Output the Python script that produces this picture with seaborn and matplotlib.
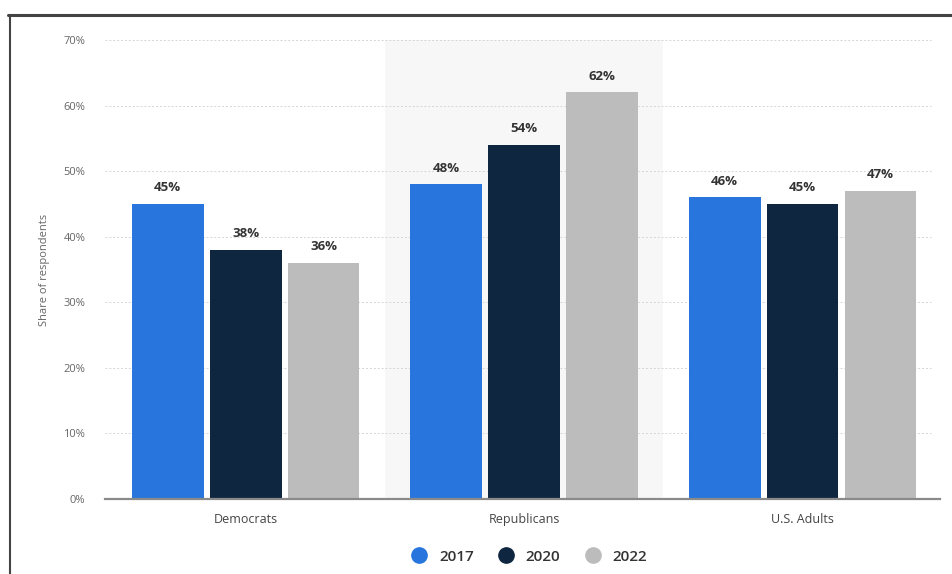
import matplotlib.pyplot as plt
import seaborn as sns
import pandas as pd
from matplotlib.lines import Line2D

sns.set_theme(style="white")
plt.rcParams['font.family'] = ['Open Sans', 'DejaVu Sans']

groups = ["Democrats", "Republicans", "U.S. Adults"]
years = ["2017", "2020", "2022"]
share_2017 = [45, 48, 46]
share_2020 = [38, 54, 45]
share_2022 = [36, 62, 47]
colors = ["#2876dd", "#0f2640", "#bcbcbc"]
y_ticks = [0, 10, 20, 30, 40, 50, 60, 70]

df = pd.DataFrame({
    "group": groups * 3,
    "year": [y for y in years for _ in groups],
    "share": share_2017 + share_2020 + share_2022,
})

fig = plt.figure(figsize=(9.52, 5.74), dpi=100)
ax = fig.add_axes([0.110, 0.1307, 0.877, 0.7996])

# highlighted middle category
ax.axvspan(0.5, 1.5, color="#f7f7f7", zorder=0, lw=0)

sns.barplot(data=df, x="group", y="share", hue="year", palette=colors,
            width=0.84, gap=0.08, saturation=1, linewidth=0, ax=ax,
            legend=False, zorder=3)

for cont in ax.containers:
    ax.bar_label(cont, labels=[f"{v:.0f}%" for v in cont.datavalues],
                 padding=7, fontsize=9.5, color="#333333", fontweight="bold")

ax.set_xlim(-0.506, 2.492)
ax.set_ylim(0, 70)
ax.set_yticks(y_ticks)
ax.set_yticklabels([f"{t}%" for t in y_ticks])
ax.tick_params(axis="y", labelsize=8, colors="#666666", length=0, pad=14)
ax.tick_params(axis="x", labelsize=9, colors="#444444", length=0, pad=10)
for t in y_ticks[1:]:
    ax.plot([-0.506, 2.46], [t, t], ls=(0, (2, 2)), lw=0.7, color="#d5d5d5", zorder=1)

for s in ["top", "right", "left"]:
    ax.spines[s].set_visible(False)
ax.spines["bottom"].set_color("#8a8a8a")
ax.spines["bottom"].set_linewidth(1.6)
ax.spines["bottom"].set_zorder(4)
ax.set_xlabel("")
ax.set_ylabel("Share of respondents", fontsize=8, color="#666666", labelpad=10)

handles = [Line2D([], [], marker="o", ls="", markersize=11, color=c) for c in colors]
fig.legend(handles, years, loc="center", bbox_to_anchor=(0.552, 0.03), ncol=3,
           frameon=False, handletextpad=0.3, columnspacing=1.1,
           prop={"size": 11, "weight": "semibold"}, labelcolor="#333333")

# screenshot frame
fig.add_artist(Line2D([8 / 952, 1], [1 - 15 / 574, 1 - 15 / 574], color="#444444", lw=2.2))
fig.add_artist(Line2D([9.5 / 952, 9.5 / 952], [0, 1 - 15 / 574], color="#444444", lw=1.5))

fig.savefig("out.png", dpi=100)
